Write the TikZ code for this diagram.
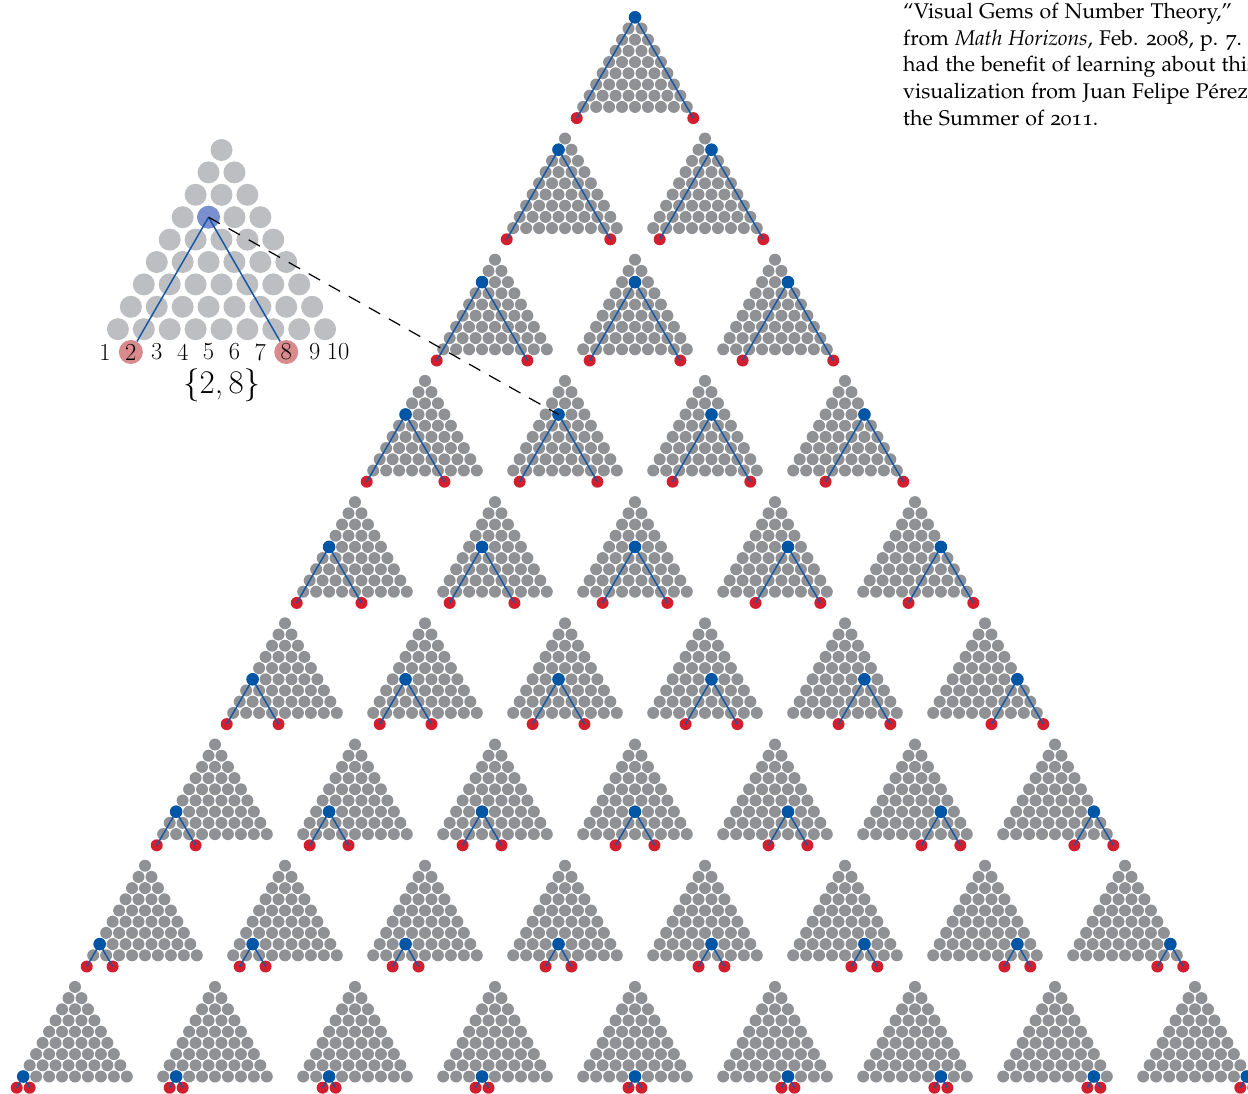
\documentclass[tikz,border=0pt]{standalone}
\usepackage[T1,TU]{fontenc}
\definecolor{dotgray}{RGB}{144,145,149}
\definecolor{insetgray}{RGB}{189,190,193}
\definecolor{dotblue}{RGB}{0,85,164}
\definecolor{lineblue}{RGB}{20,88,168}
\definecolor{dotred}{RGB}{210,30,45}
\definecolor{insetblue}{RGB}{122,143,206}
\definecolor{insetred}{RGB}{216,138,140}
\begin{document}
\begin{tikzpicture}[x=1pt,y=-1pt,
  bluedot/.style={circle,fill=dotblue,inner sep=0pt,minimum size=12.6pt},
  reddot/.style={circle,fill=dotred,inner sep=0pt,minimum size=12pt},
  bigline/.style={draw=lineblue,line width=1.5pt},
  insetline/.style={draw=lineblue,line width=1.5pt},
  insetbluedot/.style={circle,fill=insetblue,inner sep=0pt,minimum size=23pt},
  lbl/.style={inner sep=0pt,font=\fontsize{24.5}{28}\selectfont},
  lblhi/.style={lbl,circle,fill=insetred,minimum size=24pt},
  dashline/.style={draw=black,line width=1.2pt,dash pattern=on 13pt off 10pt},
  txt/.style={inner sep=0pt,anchor=base west,font=\fontencoding{T1}\fontfamily{pplj}\fontsize{21.3}{26.7}\selectfont}
]
\useasboundingbox (0,0) rectangle (1248,1093);
\clip (0,0) rectangle (1248,1093);

% big triangle of small triangles
\foreach \r in {1,...,9}{
  \foreach \c in {1,...,\r}{
    \pgfmathsetmacro\ax{635+(\c-(\r+1)/2)*140}
    \pgfmathsetmacro\ay{17.3+(\r-1)*121.2}
    \foreach \k in {1,...,9}{
      \foreach \m in {1,...,\k}{
        \fill[dotgray] ({\ax+(\m-(\k+1)/2)*12.95},{\ay+(\k-1)*11.2}) circle[radius=6];
      }
    }
    \node[reddot] (ra-\r-\c) at ({\ax+(\c-5.5)*12.95},{\ay+9*11.2}) {};
    \node[reddot] (rb-\r-\c) at ({\ax+(\c+10-\r-5.5)*12.95},{\ay+9*11.2}) {};
    \coordinate (b-\r-\c) at ({\ax+((2*\c+10-\r)/2-5.5)*12.95},{\ay+(\r-1)*11.2});
    \draw[bigline] (b-\r-\c) -- (ra-\r-\c.center);
    \draw[bigline] (b-\r-\c) -- (rb-\r-\c.center);
    \node[bluedot] (bd-\r-\c) at (b-\r-\c) {};
  }
}

% inset triangle
\foreach \k in {1,...,9}{
  \foreach \m in {1,...,\k}{
    \fill[insetgray] ({221.5+(\m-(\k+1)/2)*25.9},{150+(\k-1)*22.4}) circle[radius=11];
  }
}
\foreach \n/\st/\dx in {1/lbl/0,2/lblhi/0,3/lbl/0,4/lbl/0,5/lbl/0,6/lbl/0,7/lbl/0,8/lblhi/0,9/lbl/2.5,10/lbl/0}{
  \node[\st] (l\n) at ({221.5+(\n-5.5)*25.9+\dx},352) {\n};
}
\node[insetbluedot] (ib) at ({221.5+(5-5.5)*25.9},{150+3*22.4}) {};
\draw[insetline] (ib.center) -- (l2);
\draw[insetline] (ib.center) -- (l8);
\node[anchor=base,inner sep=0pt,font=\fontsize{33}{38}\selectfont] (pair) at (221.7,393.3) {\{2,\kern0.17em 8\}};

\draw[dashline] (ib.center) -- (bd-4-2.center);

% text block
\node[txt] (t1) at (903,18.3) {``Visual Gems of Number Theory,''};
\node[txt] (t2) at (903,45) {from \textit{Math Horizons}, Feb. 2008, p. 7. I};
\node[txt] (t3) at (903,71.7) {had the benefit of learning about this};
\node[txt] (t4) at (903,98.3) {visualization from Juan Felipe P\'erez};
\node[txt] (t5) at (903,125) {the Summer of 2011.};
\end{tikzpicture}
\end{document}
